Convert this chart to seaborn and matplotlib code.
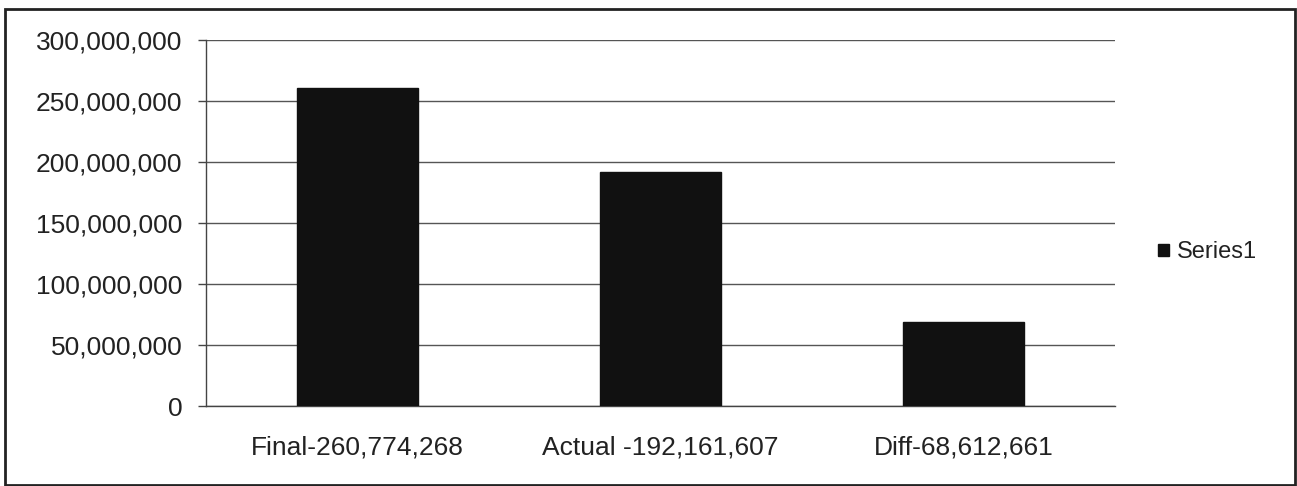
import matplotlib
matplotlib.use("Agg")
import matplotlib.pyplot as plt
import seaborn as sns
import pandas as pd
from matplotlib.ticker import FuncFormatter, FixedLocator
from matplotlib.patches import Rectangle

categories = ["Final-260,774,268", "Actual -192,161,607", "Diff-68,612,661"]
values = [260774268, 192161607, 68612661]
series_name = "Series1"
y_ticks = [0, 50000000, 100000000, 150000000, 200000000, 250000000, 300000000]

sns.set_theme(style="white")
plt.rcParams["font.family"] = ["Liberation Sans", "DejaVu Sans"]

df = pd.DataFrame({"category": categories, "value": values, "series": series_name})

fig = plt.figure(figsize=(12.97, 4.86), dpi=100)
ax = fig.add_axes([0.1588, 0.1646, 0.8597 - 0.1588, 0.9177 - 0.1646])

sns.barplot(data=df, x="category", y="value", hue="series", palette=["#111111"],
            width=0.4, ax=ax, saturation=1, edgecolor="#111111", zorder=3)

ax.set_xlim(-0.5, 2.5)
ax.set_ylim(0, 300000000)
ax.yaxis.set_major_locator(FixedLocator(y_ticks))
ax.yaxis.set_major_formatter(FuncFormatter(lambda v, p: f"{int(v):,}"))
ax.grid(axis="y", color="#555555", linewidth=1.0, zorder=0)
ax.set_xlabel("")
ax.set_ylabel("")

for side in ["top", "right"]:
    ax.spines[side].set_visible(False)
for side in ["left", "bottom"]:
    ax.spines[side].set_color("#444444")
    ax.spines[side].set_linewidth(1.0)

# category boundary ticks on the x axis, value ticks on the y axis
ax.set_xticks([0, 1, 2])
ax.set_xticks([-0.5, 0.5, 1.5, 2.5], minor=True)
ax.tick_params(axis="x", which="major", length=0, pad=21, labelsize=19, labelcolor="#222222")
ax.tick_params(axis="x", which="minor", length=6, width=1, color="#444444", direction="out")
ax.tick_params(axis="y", which="major", length=6, width=1, color="#444444",
               direction="out", pad=11, labelsize=19, labelcolor="#222222", left=True)

handles, labels = ax.get_legend_handles_labels()
ax.legend(handles=handles, labels=labels, loc="center left", bbox_to_anchor=(1.024, 0.42),
          frameon=False, fontsize=17, handlelength=0.45, handleheight=0.45,
          handletextpad=0.35, labelcolor="#222222")

# chart outer frame
fig.patches.append(Rectangle((5 / 1297, 1 / 486), 1290 / 1297, 476 / 486,
                             transform=fig.transFigure, fill=False,
                             edgecolor="#222222", linewidth=2))

fig.savefig("out.png", dpi=100, facecolor="white")
